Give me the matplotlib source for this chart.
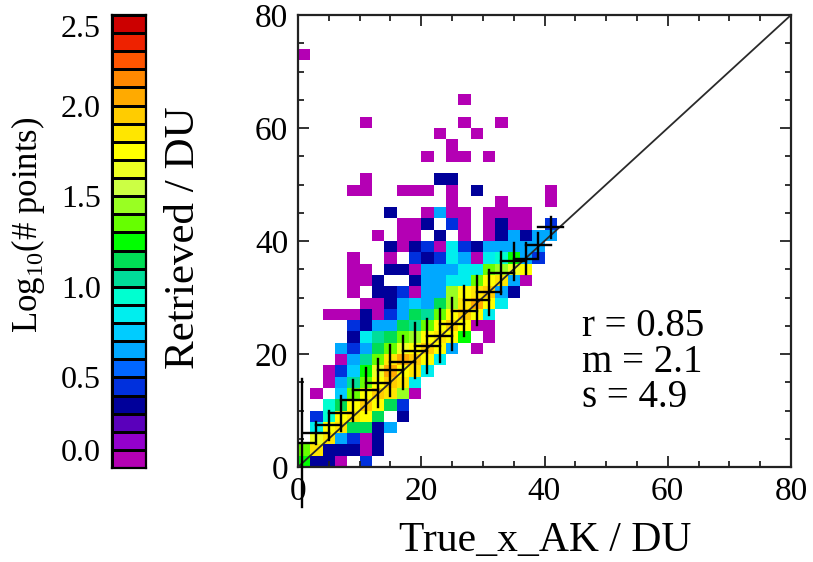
import numpy as np
import matplotlib
matplotlib.use("Agg")
import matplotlib.pyplot as plt
from matplotlib.colors import ListedColormap, BoundaryNorm

plt.rcParams["font.family"] = "Liberation Serif"
plt.rcParams["mathtext.fontset"] = "custom"
plt.rcParams["mathtext.rm"] = "Liberation Serif"

# 2-D histogram, 2 DU bins; row 0 is the lowest retrieved bin (0-2 DU),
# column 0 the lowest true bin (0-2 DU). Values are point counts.
bin_du = 2.0
counts = [
    [18, 2, 2, 1, 0, 3, 0, 0, 0, 0, 0, 0, 0, 0, 0, 0, 0, 0, 0, 0, 0, 0],
    [22, 70, 2, 2, 2, 1, 2, 0, 0, 0, 0, 0, 0, 0, 0, 0, 0, 0, 0, 0, 0, 0],
    [0, 45, 70, 4, 3, 1, 2, 0, 0, 0, 0, 0, 0, 0, 0, 0, 0, 0, 0, 0, 0, 0],
    [0, 7, 57, 70, 14, 14, 2, 4, 0, 0, 0, 0, 0, 0, 0, 0, 0, 0, 0, 0, 0, 0],
    [0, 3, 9, 57, 70, 57, 14, 0, 2, 0, 0, 0, 0, 0, 0, 0, 0, 0, 0, 0, 0, 0],
    [0, 0, 9, 14, 57, 90, 57, 14, 3, 0, 0, 0, 0, 0, 0, 0, 0, 0, 0, 0, 0, 0],
    [0, 1, 0, 6, 22, 57, 90, 70, 28, 1, 0, 0, 0, 0, 0, 0, 0, 0, 0, 0, 0, 0],
    [0, 0, 1, 4, 11, 22, 57, 90, 70, 7, 0, 0, 0, 0, 0, 0, 0, 0, 0, 0, 0, 0],
    [0, 0, 1, 3, 6, 18, 45, 110, 57, 70, 7, 0, 0, 0, 0, 0, 0, 0, 0, 0, 0, 0],
    [0, 0, 0, 1, 4, 11, 22, 70, 110, 90, 57, 7, 0, 0, 0, 0, 0, 0, 0, 0, 0, 0],
    [0, 0, 0, 4, 3, 4, 14, 22, 45, 57, 90, 57, 4, 0, 1, 0, 0, 0, 0, 0, 0, 0],
    [0, 0, 0, 0, 2, 7, 11, 14, 22, 28, 57, 70, 57, 18, 0, 1, 0, 0, 0, 0, 0, 0],
    [0, 0, 0, 0, 3, 2, 4, 4, 14, 11, 22, 57, 90, 57, 1, 1, 0, 0, 0, 0, 0, 0],
    [0, 0, 1, 1, 1, 2, 1, 3, 4, 14, 11, 22, 57, 90, 57, 7, 0, 0, 0, 0, 0, 0],
    [0, 0, 0, 0, 0, 1, 1, 2, 4, 6, 4, 14, 28, 70, 110, 57, 7, 0, 0, 0, 0, 0],
    [0, 0, 0, 0, 1, 0, 2, 2, 3, 1, 4, 4, 28, 57, 70, 90, 4, 2, 0, 0, 0, 0],
    [0, 0, 0, 0, 1, 1, 2, 0, 0, 2, 4, 4, 7, 7, 22, 57, 70, 4, 1, 0, 0, 0],
    [0, 0, 0, 0, 1, 1, 0, 2, 2, 1, 4, 4, 4, 7, 7, 22, 28, 45, 57, 0, 0, 0],
    [0, 0, 0, 0, 1, 0, 0, 1, 0, 3, 2, 3, 7, 4, 1, 7, 9, 18, 4, 3, 0, 0],
    [0, 0, 0, 0, 0, 0, 0, 2, 1, 2, 3, 1, 7, 3, 2, 4, 4, 4, 4, 4, 0, 0],
    [0, 0, 0, 0, 0, 0, 1, 0, 1, 1, 0, 2, 0, 1, 0, 1, 2, 4, 2, 4, 4, 0],
    [0, 0, 0, 0, 0, 0, 0, 0, 1, 1, 2, 0, 3, 1, 0, 1, 2, 1, 1, 0, 3, 0],
    [0, 0, 0, 0, 0, 0, 0, 2, 0, 0, 1, 4, 1, 1, 0, 1, 1, 1, 1, 0, 0, 0],
    [0, 0, 0, 0, 0, 0, 0, 0, 0, 0, 0, 0, 1, 0, 0, 0, 1, 0, 0, 0, 1, 0],
    [0, 0, 0, 0, 1, 1, 0, 0, 1, 1, 1, 0, 1, 0, 2, 0, 0, 0, 0, 0, 1, 0],
    [0, 0, 0, 0, 0, 1, 0, 0, 0, 0, 0, 2, 2, 0, 0, 0, 0, 0, 0, 0, 0, 0],
    [0, 0, 0, 0, 0, 0, 0, 0, 0, 0, 0, 0, 0, 0, 0, 0, 0, 0, 0, 0, 0, 0],
    [0, 0, 0, 0, 0, 0, 0, 0, 0, 0, 1, 0, 1, 1, 0, 1, 0, 0, 0, 0, 0, 0],
    [0, 0, 0, 0, 0, 0, 0, 0, 0, 0, 0, 0, 1, 0, 0, 0, 0, 0, 0, 0, 0, 0],
    [0, 0, 0, 0, 0, 0, 0, 0, 0, 0, 0, 1, 0, 0, 1, 0, 0, 0, 0, 0, 0, 0],
    [0, 0, 0, 0, 0, 1, 0, 0, 0, 0, 0, 0, 0, 1, 0, 0, 1, 0, 0, 0, 0, 0],
    [0, 0, 0, 0, 0, 0, 0, 0, 0, 0, 0, 0, 0, 0, 0, 0, 0, 0, 0, 0, 0, 0],
    [0, 0, 0, 0, 0, 0, 0, 0, 0, 0, 0, 0, 0, 1, 0, 0, 0, 0, 0, 0, 0, 0],
    [0, 0, 0, 0, 0, 0, 0, 0, 0, 0, 0, 0, 0, 0, 0, 0, 0, 0, 0, 0, 0, 0],
    [0, 0, 0, 0, 0, 0, 0, 0, 0, 0, 0, 0, 0, 0, 0, 0, 0, 0, 0, 0, 0, 0],
    [0, 0, 0, 0, 0, 0, 0, 0, 0, 0, 0, 0, 0, 0, 0, 0, 0, 0, 0, 0, 0, 0],
    [1, 0, 0, 0, 0, 0, 0, 0, 0, 0, 0, 0, 0, 0, 0, 0, 0, 0, 0, 0, 0, 0],
]

# binned mean and spread of the retrievals along the true-column axis
cross_x = [0.6, 3, 5, 7, 9, 11, 13, 15, 17, 19, 21, 23, 25, 27, 29, 31, 33, 35, 37, 39, 41]
cross_mean = [4.2, 6.0, 7.4, 9.5, 11.8, 13.6, 14.9, 17.1, 18.5, 20.6, 21.4,
              23.2, 25.3, 27.6, 29.5, 30.9, 34.4, 36.4, 36.9, 39.3, 42.4]
cross_std = [11.3, 2.0, 2.6, 3.1, 3.6, 4.0, 4.3, 4.5, 4.7, 4.8, 4.8,
             4.7, 4.6, 4.5, 4.3, 4.0, 3.7, 3.3, 2.8, 2.2, 1.8]

stats = ["r = 0.85", "m = 2.1", "s = 4.9"]

# 25 colour levels, 0.1 wide in log10(count)
level_colors = [
    "#b400b4", "#9300cc", "#5a00bb", "#00009a", "#0030dd",
    "#0066ff", "#00a8ff", "#00ccff", "#00eeee", "#00ffd0",
    "#00dd99", "#00dd55", "#00ff00", "#66ff00", "#99ff22",
    "#ccff44", "#eeff22", "#ffff00", "#ffe600", "#ffcc00",
    "#ffaa00", "#ff8800", "#ff5500", "#ee2200", "#cc0000",
]
levels = np.linspace(0.0, 2.5, 26)
cmap = ListedColormap(level_colors)
norm = BoundaryNorm(levels, cmap.N)

W, H = 813, 562
fig = plt.figure(figsize=(W / 100, H / 100), dpi=100)
ax = fig.add_axes([298 / W, 1 - 467 / H, 493 / W, 452 / H])
cax = fig.add_axes([112 / W, 1 - 468 / H, 34 / W, 453 / H])

# histogram cells
c = np.array(counts, dtype=float)
logc = np.ma.masked_where(c <= 0, np.log10(np.where(c > 0, c, 1)))
xe = np.arange(c.shape[1] + 1) * bin_du
ye = np.arange(c.shape[0] + 1) * bin_du
ax.pcolormesh(xe, ye, logc, cmap=cmap, norm=norm, shading="flat", zorder=1)

# 1:1 line
ax.plot([0, 80], [0, 80], color="#2a2a2a", lw=1.3, zorder=3)

# binned means with spread; the first bar runs below the axis
for k, (xc, mu, sd) in enumerate(zip(cross_x, cross_mean, cross_std)):
    ax.plot([xc, xc], [mu - sd, mu + sd], color="black", lw=1.7,
            zorder=4, clip_on=(k > 0))
    ax.plot([xc - 2, xc + 2], [mu, mu], color="black", lw=1.7, zorder=4)

ax.set_xlim(0, 80)
ax.set_ylim(0, 80)
ax.set_xticks([0, 20, 40, 60, 80])
ax.set_yticks([0, 20, 40, 60, 80])
ax.set_xticks(np.arange(0, 81, 5), minor=True)
ax.set_yticks(np.arange(0, 81, 5), minor=True)
ax.tick_params(which="both", direction="in", top=True, right=True,
               width=1.3, color="#222222")
ax.tick_params(which="major", length=8, labelsize=24, pad=7)
ax.tick_params(which="minor", length=4)
for s in ax.spines.values():
    s.set_linewidth(1.6)
    s.set_color("#222222")

# fit statistics as one block of three lines
ax.text(46.1, 28.1, "\n".join(stats), fontsize=28, va="top", ha="left",
        linespacing=0.95)

fig.text(545 / W, 1 - 551 / H, "True_x_AK / DU", fontsize=30,
         ha="center", va="baseline")
fig.text(184 / W, 1 - 238 / H, "Retrieved / DU", fontsize=31,
         ha="center", va="center", rotation=90)

# colour bar
mid = (levels[:-1] + levels[1:]) / 2
cax.pcolormesh([0, 1], levels, mid.reshape(-1, 1), cmap=cmap, norm=norm,
               edgecolors="black", linewidth=1.0)
cax.set_xlim(0, 1)
cax.set_ylim(0, 2.5)
cax.set_xticks([])
cb_ticks = np.arange(0, 2.51, 0.5)
cax.set_yticks(cb_ticks)
cax.set_yticklabels([f"{v:.1f}" for v in cb_ticks])
cax.tick_params(axis="y", length=0, pad=8, labelsize=23)
lbls = cax.get_yticklabels()
lbls[0].set_va("bottom")
lbls[-1].set_va("top")
for s in cax.spines.values():
    s.set_linewidth(1.6)
fig.text(28 / W, 1 - 225 / H, r"Log$_{10}$(# points)", fontsize=25,
         ha="center", va="center", rotation=90)

fig.savefig("out.png", dpi=100)
